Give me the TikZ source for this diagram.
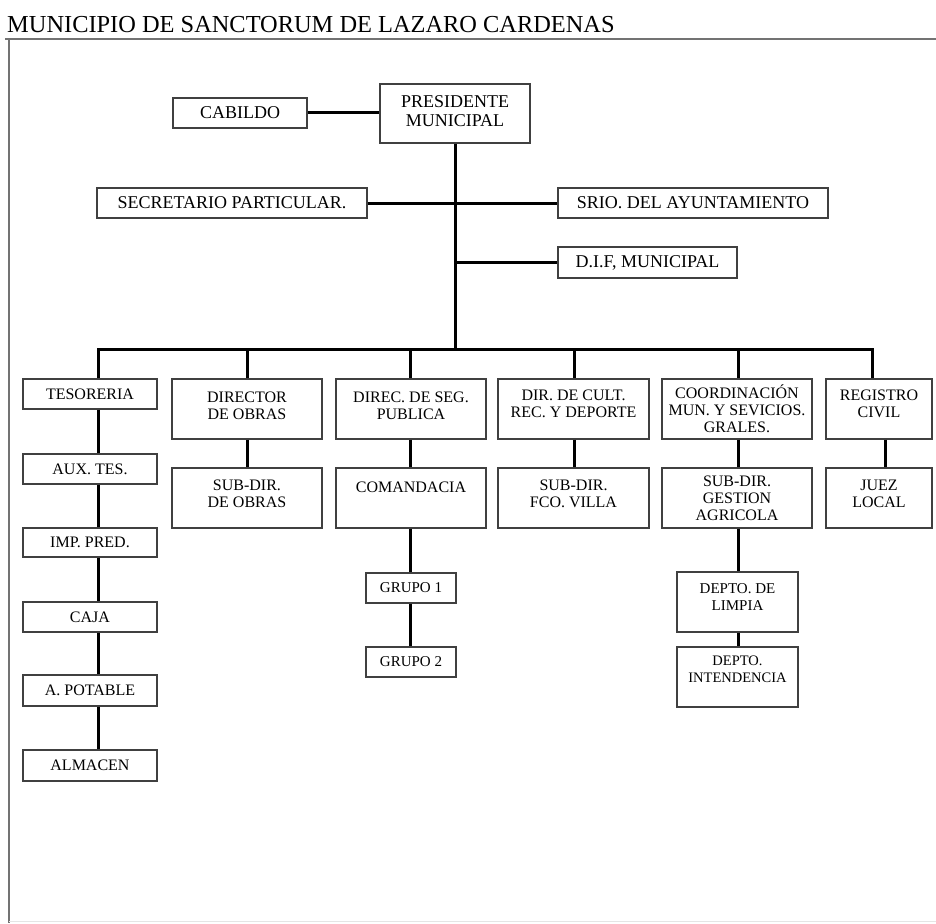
\documentclass[tikz,border=0pt]{standalone}
\usepackage{fontspec}
\setmainfont{Liberation Serif}
\newcommand\tailsp[1]{\\[#1]\mbox{}}
\begin{document}
\begin{tikzpicture}[x=1pt,y=1pt,
  box/.style={draw=black!75, line width=1.3pt, fill=white, inner sep=0pt, align=center},
  bigtxt/.style={font=\fontsize{18}{19}\selectfont},
  smalltxt/.style={font=\fontsize{16}{17}\selectfont},
  depttxt/.style={font=\fontsize{15}{16.5}\selectfont},
  conn/.style={draw=black, line width=3pt},
  frame/.style={draw=black!55, line width=2pt}]
\useasboundingbox (0,0) rectangle (936,-923);
% frame
\draw[frame] (5,-39.5) -- (936,-39.5);
\draw[frame] (8.5,-39.5) -- (8.5,-923);
\draw[draw=black!10, line width=1pt] (9,-921.5) -- (936,-921.5);
% title
\node[anchor=base west, inner sep=0pt, font=\fontsize{24.4}{26}\selectfont] (title) at (7,-33) {MUNICIPIO DE SANCTORUM DE LAZARO CARDENAS};

% top section
\node[box, bigtxt, minimum width=134pt, minimum height=30pt] (cab) at (240,-113) {CABILDO};
\node[box, bigtxt, minimum width=150pt, minimum height=59pt] (pres) at (455,-113.5) {PRESIDENTE\\MUNICIPAL\tailsp{-14pt}};
\node[box, bigtxt, minimum width=270pt, minimum height=30pt] (sec) at (232,-203) {SECRETARIO PARTICULAR.};
\node[box, bigtxt, minimum width=270pt, minimum height=30pt] (srio) at (693,-203) {SRIO. DEL AYUNTAMIENTO};
\node[box, bigtxt, minimum width=179pt, minimum height=31pt] (dif) at (647.5,-262.5) {D.I.F, MUNICIPAL};

% column coordinates on the bus
\coordinate (c1) at (98,-349);
\coordinate (c2) at (247,-349);
\coordinate (c3) at (410,-349);
\coordinate (c4) at (574,-349);
\coordinate (c5) at (738,-349);
\coordinate (c6) at (872,-349);
\coordinate (c6b) at (885,-349);
\coordinate (trunk) at (455,-349);

% row 1
\node[box, smalltxt, minimum width=134pt, minimum height=30pt] (tes) at (90,-394) {TESORERIA};
\node[box, smalltxt, minimum width=150pt, minimum height=60pt] (dirob) at (247,-409) {DIRECTOR\\DE OBRAS\tailsp{-11pt}};
\node[box, smalltxt, minimum width=150pt, minimum height=60pt] (dirseg) at (411,-409) {DIREC. DE SEG.\\PUBLICA\tailsp{-11pt}};
\node[box, smalltxt, minimum width=151pt, minimum height=60pt] (dircult) at (573.5,-409) {DIR. DE CULT.\\REC. Y DEPORTE\tailsp{-7pt}};
\node[box, smalltxt, minimum width=150pt, minimum height=60pt] (coord) at (737,-409) {COORDINACIÓN\\MUN. Y SEVICIOS.\\GRALES.};
\node[box, smalltxt, minimum width=106pt, minimum height=60pt] (reg) at (879,-409) {REGISTRO\\CIVIL\tailsp{-7pt}};

% row 2
\node[box, smalltxt, minimum width=134pt, minimum height=30pt] (aux) at (90,-469) {AUX. TES.};
\node[box, smalltxt, minimum width=150pt, minimum height=60pt] (subob) at (247,-498) {SUB-DIR.\\DE OBRAS\tailsp{-9pt}};
\node[box, smalltxt, minimum width=150pt, minimum height=60pt] (coman) at (411,-498) {COMANDACIA\\\strut};
\node[box, smalltxt, minimum width=151pt, minimum height=60pt] (subfco) at (573.5,-498) {SUB-DIR.\\FCO. VILLA\tailsp{-9pt}};
\node[box, smalltxt, minimum width=150pt, minimum height=60pt] (subges) at (737,-498) {SUB-DIR.\\GESTION\\AGRICOLA};
\node[box, smalltxt, minimum width=106pt, minimum height=60pt] (juez) at (879,-498) {JUEZ\\LOCAL\tailsp{-9pt}};

% tesoreria chain
\node[box, smalltxt, minimum width=134pt, minimum height=29pt] (imp) at (90,-542.5) {IMP. PRED.};
\node[box, smalltxt, minimum width=134pt, minimum height=30pt] (caja) at (90,-617) {CAJA};
\node[box, smalltxt, minimum width=134pt, minimum height=31pt] (agua) at (90,-690.5) {A. POTABLE};
\node[box, smalltxt, minimum width=134pt, minimum height=31pt] (alm) at (90,-765.5) {ALMACEN};

% grupos
\node[box, depttxt, minimum width=90pt, minimum height=30pt] (g1) at (411,-588) {GRUPO 1};
\node[box, depttxt, minimum width=90pt, minimum height=30pt] (g2) at (411,-662) {GRUPO 2};

% deptos
\node[box, depttxt, minimum width=121pt, minimum height=60pt] (limp) at (737.5,-602) {DEPTO. DE\\LIMPIA\tailsp{-6.5pt}};
\node[box, font=\fontsize{14.5}{17}\selectfont, minimum width=121pt, minimum height=60pt] (inten) at (737.5,-677) {DEPTO.\\INTENDENCIA\tailsp{-1pt}};

% connectors top
\draw[conn] (cab.east) -- (cab.east -| pres.west);
\draw[conn] (pres.south) -- (trunk);
\draw[conn] (sec.east) -- (srio.west);
\draw[conn] (pres.south |- dif.west) -- (dif.west);

% bus and drops
\draw[conn] (c1 |- tes.north) -- (c1) -- (c6) -- (c6 |- reg.north);
\draw[conn] (c2) -- (c2 |- dirob.north);
\draw[conn] (c3) -- (c3 |- dirseg.north);
\draw[conn] (c4) -- (c4 |- dircult.north);
\draw[conn] (c5) -- (c5 |- coord.north);

% column links
\draw[conn] (tes.south -| c1) -- (aux.north -| c1);
\draw[conn] (aux.south -| c1) -- (imp.north -| c1);
\draw[conn] (imp.south -| c1) -- (caja.north -| c1);
\draw[conn] (caja.south -| c1) -- (agua.north -| c1);
\draw[conn] (agua.south -| c1) -- (alm.north -| c1);
\draw[conn] (dirob.south -| c2) -- (subob.north -| c2);
\draw[conn] (dirseg.south -| c3) -- (coman.north -| c3);
\draw[conn] (coman.south -| c3) -- (g1.north -| c3);
\draw[conn] (g1.south -| c3) -- (g2.north -| c3);
\draw[conn] (dircult.south -| c4) -- (subfco.north -| c4);
\draw[conn] (coord.south -| c5) -- (subges.north -| c5);
\draw[conn] (subges.south -| c5) -- (limp.north -| c5);
\draw[conn] (limp.south -| c5) -- (inten.north -| c5);
\draw[conn] (reg.south -| c6b) -- (juez.north -| c6b);
\end{tikzpicture}
\end{document}
